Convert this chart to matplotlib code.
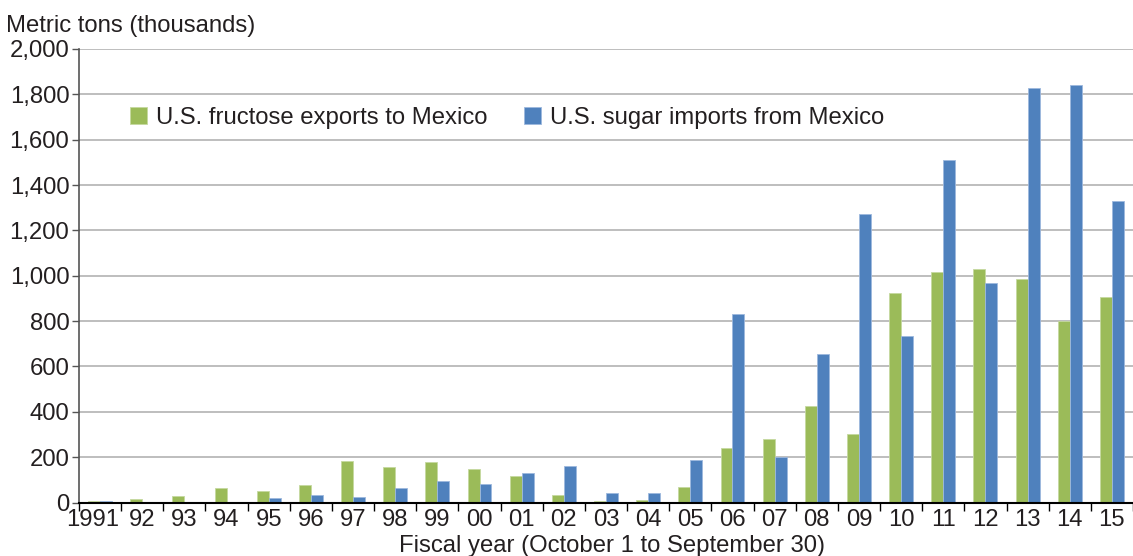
import numpy as np
import matplotlib
matplotlib.use('Agg')
import matplotlib.pyplot as plt
import matplotlib.transforms as mtransforms

# --- DATA ---
years = ['1991', '92', '93', '94', '95', '96', '97', '98', '99', '00', '01', '02', '03',
         '04', '05', '06', '07', '08', '09', '10', '11', '12', '13', '14', '15']
fructose_exports = [8, 16, 28, 66, 49, 76, 185, 157, 178, 146, 115, 34, 6,
                    9, 69, 240, 278, 426, 301, 925, 1016, 1031, 987, 799, 906]
sugar_imports = [7, 0, 0, 0, 19, 35, 23, 66, 97, 81, 132, 160, 40,
                 43, 188, 833, 200, 657, 1274, 735, 1511, 968, 1826, 1840, 1330]

GREEN = '#9BBB59'
BLUE = '#4F81BD'
TEXT = '#231f20'
FS = 17.2

plt.rcParams['font.family'] = ['Liberation Sans', 'DejaVu Sans']

fig = plt.figure(figsize=(11.33, 5.56), dpi=100)
ax = fig.add_axes([79 / 1133, 53.5 / 556, 1 - 79 / 1133, 453.5 / 556])

x = np.arange(len(years))
w = 0.284
ax.bar(x - w / 2, fructose_exports, w, color=GREEN, edgecolor='#c5d9a0', linewidth=0.6,
       label='U.S. fructose exports to Mexico', zorder=3)
ax.bar(x + w / 2, sugar_imports, w, color=BLUE, edgecolor='#9db8de', linewidth=0.6,
       label='U.S. sugar imports from Mexico', zorder=3)

ax.set_xlim(-0.5, len(years) - 0.5)
ax.set_ylim(0, 2000)
ax.set_yticks(np.arange(0, 2001, 200))
ax.set_yticklabels([f'{v:,}' for v in range(0, 2001, 200)])
ax.yaxis.grid(True, color='#b3b3b3', linewidth=1.2, zorder=0)
ax.set_axisbelow(True)

# ticks between categories, labels at category centres
ax.set_xticks(np.arange(-0.5, len(years)), minor=False)
ax.set_xticklabels([])
ax.set_xticks(x, minor=True)
ax.set_xticklabels(years, minor=True)
ax.tick_params(axis='x', which='major', length=6, width=1, color='black', direction='out')
ax.tick_params(axis='x', which='minor', length=0, pad=5, labelsize=FS, labelcolor=TEXT)
ax.tick_params(axis='y', length=5, width=1, color='#555555', labelsize=FS, labelcolor=TEXT, pad=2)

# the first label is nudged left in the original
first = ax.xaxis.get_minorticklabels()[0]
first.set_transform(first.get_transform() + mtransforms.ScaledTranslation(-7 / 100, 0, fig.dpi_scale_trans))

for s in ['top', 'right']:
    ax.spines[s].set_visible(False)
ax.spines['left'].set_color('#555555')
ax.spines['left'].set_linewidth(1.2)
ax.spines['bottom'].set_color('black')
ax.spines['bottom'].set_linewidth(1.5)
ax.spines['bottom'].set_zorder(4)

leg = ax.legend(loc='center left', bbox_to_anchor=(0.0395, 0.848), ncol=2, frameon=False,
                fontsize=FS, handlelength=0.7, handleheight=0.7, handletextpad=0.4,
                columnspacing=1.5, borderaxespad=0)
for t in leg.get_texts():
    t.set_color(TEXT)

fig.text(6 / 1133, 1 - 26 / 556, 'Metric tons (thousands)', fontsize=FS, color=TEXT,
         va='center', ha='left')
fig.text(612 / 1133, 1 - 546 / 556, 'Fiscal year (October 1 to September 30)', fontsize=FS,
         color=TEXT, va='center', ha='center')

fig.savefig('out.png', dpi=100)
